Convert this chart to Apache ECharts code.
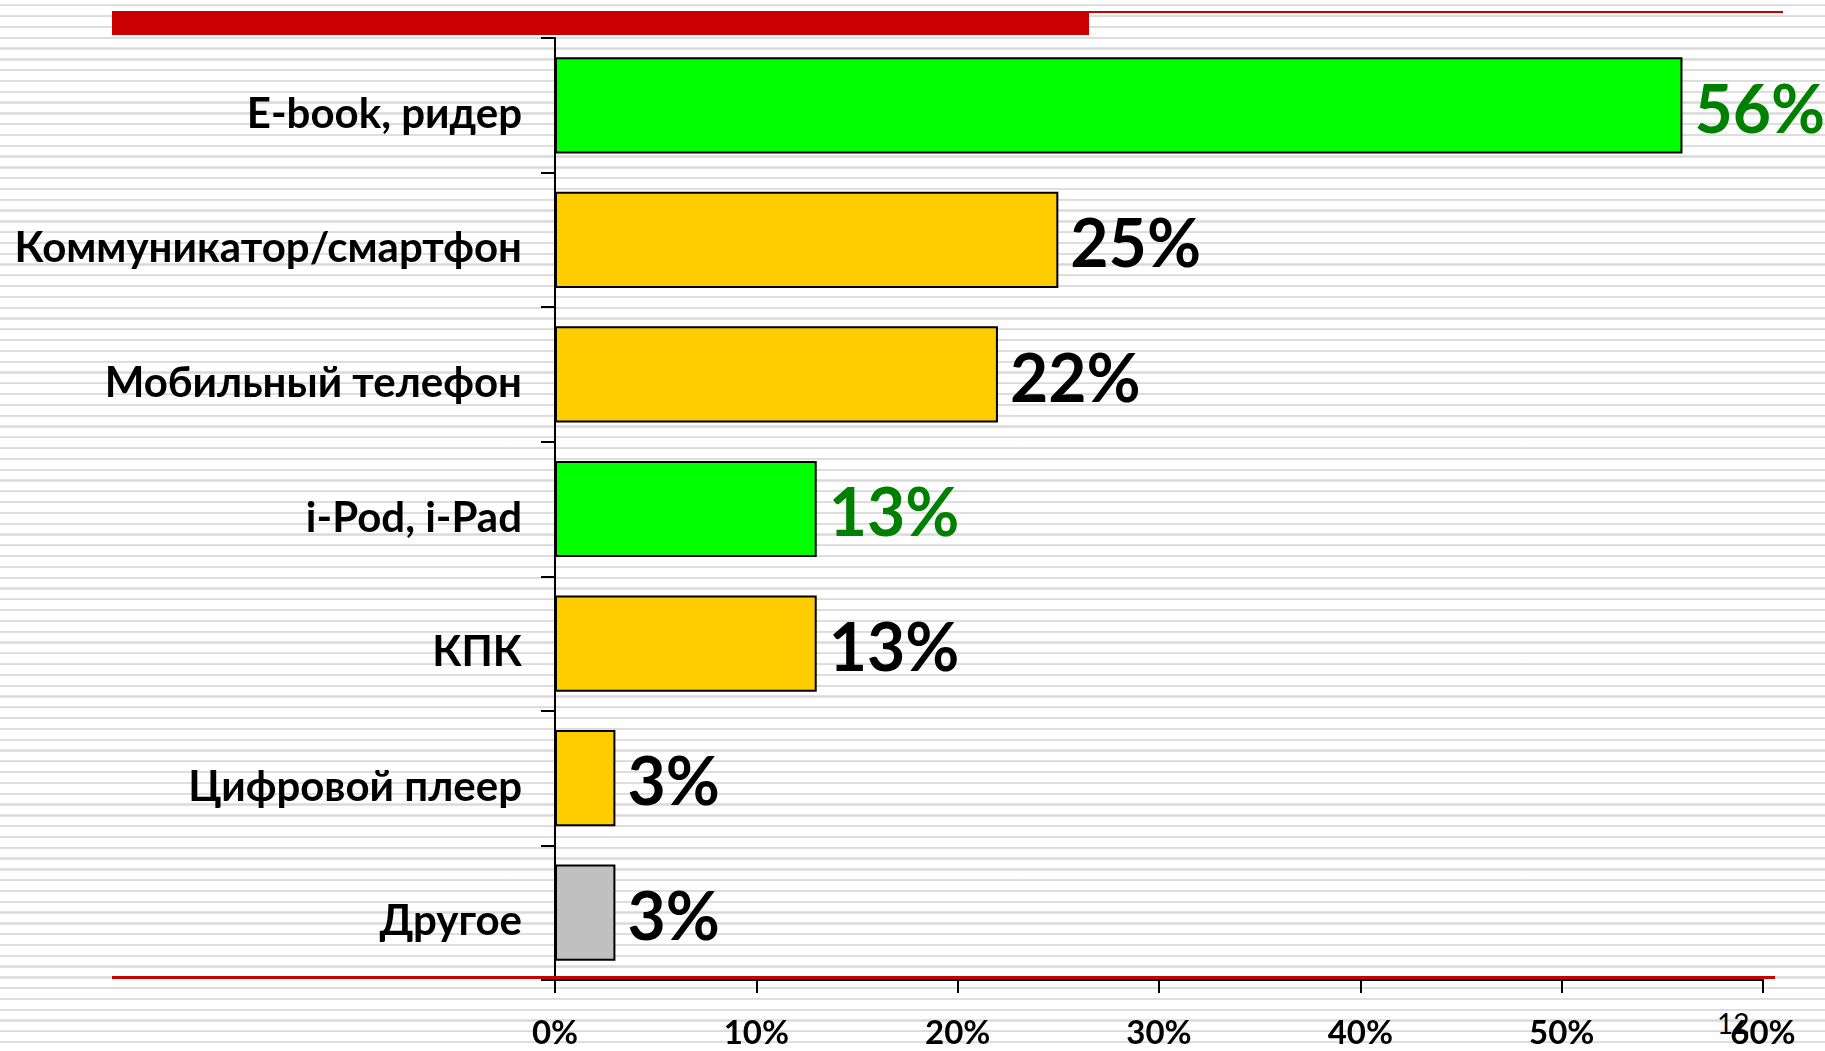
<!DOCTYPE html>
<html>
<head>
<meta charset="utf-8">
<script src="https://cdn.jsdelivr.net/npm/echarts@6/dist/echarts.min.js"></script>
<style>
  html, body { margin: 0; padding: 0; }
  body {
    /* striped slide background */
    background: repeating-linear-gradient(to bottom,
      #ffffff 0px, #ffffff 4.2px, #e4e4e4 4.2px, #d9d9d9 5.4px, #e4e4e4 6.5px,
      #ffffff 6.5px, #ffffff 10.8px);
  }
  #chart { width: 1825px; height: 1051px; }
  #page {
    position: absolute; left: 1717px; top: 1006px;
    font: 28px Lato, "Open Sans", sans-serif; color: #000;
  }
</style>
</head>
<body>
<div id="page">12</div>
<div id="chart"></div>
<script>
const categories = [
  "E-book, ридер",
  "Коммуникатор/смартфон",
  "Мобильный телефон",
  "i-Pod, i-Pad",
  "КПК",
  "Цифровой плеер",
  "Другое",
];
const shares = [56, 25, 22, 13, 13, 3, 3];
const highlighted = ["E-book, ридер", "i-Pod, i-Pad"];
const otherCategory = "Другое";
const xTicks = [0, 10, 20, 30, 40, 50, 60];

const font = "Lato, 'Open Sans', sans-serif";

function barColor(name) {
  if (highlighted.includes(name)) return "#00ff00";
  if (name === otherCategory) return "#c0c0c0";
  return "#ffcc00";
}

const chart = echarts.init(document.getElementById("chart"));

const option = {
  animation: false,
  grid: { left: 555, top: 38, width: 1208, height: 942, containLabel: false },
  xAxis: {
    type: "value",
    min: xTicks[0],
    max: xTicks[xTicks.length - 1],
    interval: xTicks[1] - xTicks[0],
    splitLine: { show: false },
    axisLine: { show: true, lineStyle: { color: "#000", width: 2 } },
    axisTick: { show: true, length: 13, lineStyle: { color: "#000", width: 2 } },
    axisLabel: {
      formatter: "{value}%",
      margin: 37,
      color: "#000",
      fontFamily: font,
      fontWeight: "bold",
      fontSize: 33,
      showMaxLabel: true,
    },
  },
  yAxis: {
    type: "category",
    inverse: true,
    data: categories,
    axisLine: { show: true, lineStyle: { color: "#000", width: 2 } },
    axisTick: { show: true, length: 14, lineStyle: { color: "#000", width: 2 } },
    axisLabel: {
      margin: 33,
      color: "#000",
      fontFamily: font,
      fontWeight: "bold",
      fontSize: 42,
      // nudge the text a little below the band centre, as on the slide
      verticalAlign: "top",
      lineHeight: 18,
    },
  },
  series: [
    {
      type: "bar",
      barCategoryGap: "28.5%",
      data: shares.map((v, i) => ({
        value: v,
        itemStyle: { color: barColor(categories[i]) },
        label: { color: highlighted.includes(categories[i]) ? "#008000" : "#000" },
      })),
      itemStyle: { borderColor: "#000", borderWidth: 2 },
      label: {
        show: true,
        position: "right",
        distance: 12,
        offset: [0, 6],
        formatter: "{c}%",
        fontFamily: font,
        fontWeight: "bold",
        fontSize: 66,
      },
    },
  ],
  graphic: [
    {
      type: "rect",
      shape: { x: 112, y: 11, width: 977, height: 24 },
      style: { fill: "#cc0000" },
      z: 100,
    },
    {
      type: "line",
      shape: { x1: 1089, y1: 12, x2: 1783, y2: 12 },
      style: { stroke: "#cc0000", lineWidth: 2 },
      z: 100,
    },
    {
      type: "line",
      shape: { x1: 112, y1: 977.5, x2: 1775, y2: 977.5 },
      style: { stroke: "#cc0000", lineWidth: 3 },
      z: 100,
    },
  ],
};

chart.setOption(option);
</script>
</body>
</html>
